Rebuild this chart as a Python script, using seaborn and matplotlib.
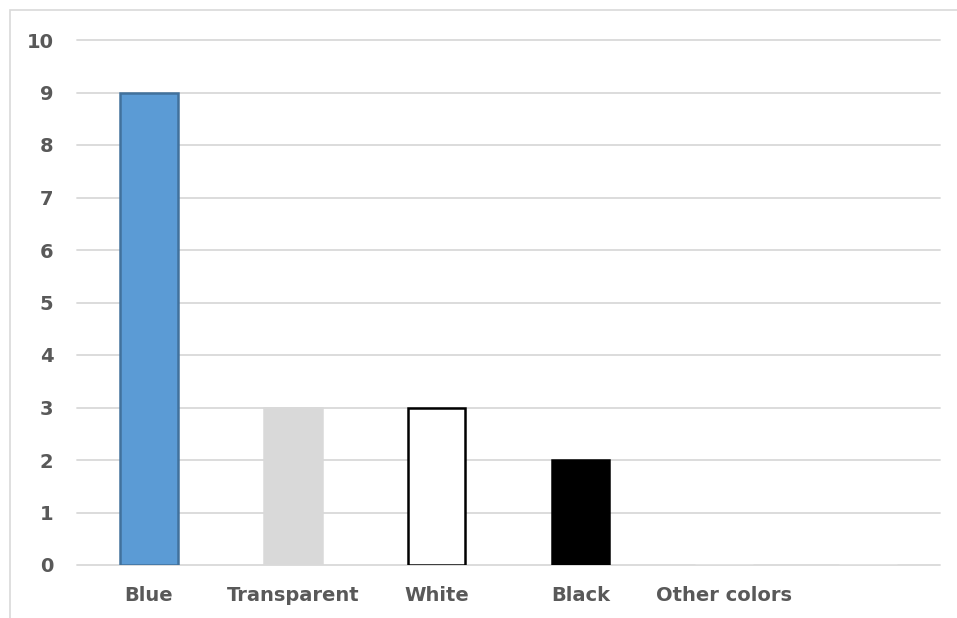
import matplotlib
matplotlib.use("Agg")
import matplotlib.pyplot as plt
import seaborn as sns
import pandas as pd
from matplotlib.patches import Rectangle

categories = ["Blue", "Transparent", "White", "Black", "Other colors", ""]
values = [9, 3, 3, 2, 0, 0]
fill_colors = ["#5B9BD5", "#D9D9D9", "#FFFFFF", "#000000", "#FFFFFF", "#FFFFFF"]
edge_colors = ["#41719C", "#D9D9D9", "#000000", "#000000", "#FFFFFF", "#FFFFFF"]
y_ticks = list(range(0, 11))

sns.set_theme(style="white")
plt.rcParams['font.family'] = ['DejaVu Sans']

df = pd.DataFrame({"cat": categories, "val": values})

fig = plt.figure(figsize=(9.57, 6.18), dpi=100)
ax = fig.add_axes([77/957, (618-565)/618, (940-77)/957, (565-40)/618])

sns.barplot(data=df, x="cat", y="val", hue="cat", palette=fill_colors,
            legend=False, width=0.4, ax=ax, order=categories, saturation=1)
for p, ec, v in zip(ax.patches, edge_colors, values):
    if v > 0:
        p.set_edgecolor(ec)
        p.set_linewidth(1.8)

ax.set_ylim(0, 10)
ax.set_xlim(-0.5, len(categories) - 0.5)
ax.set_yticks(y_ticks)
ax.yaxis.grid(True, color="#D9D9D9", linewidth=1.3)
for gl in ax.get_ygridlines():
    gl.set_clip_on(False)
ax.set_axisbelow(True)
for s in ax.spines.values():
    s.set_visible(False)
ax.set_xlabel("")
ax.set_ylabel("")
ax.tick_params(axis="both", length=0, labelsize=14, labelcolor="#595959")
ax.tick_params(axis="y", pad=17)
ax.tick_params(axis="x", pad=15)
for lbl in ax.get_xticklabels() + ax.get_yticklabels():
    lbl.set_fontweight("bold")

# chart frame
fig.patches.append(Rectangle((10/957, -0.1), 1.2, (608/618) + 0.1,
                             transform=fig.transFigure, fill=False,
                             edgecolor="#D9D9D9", linewidth=1.2))

fig.savefig("out.png", dpi=100)
